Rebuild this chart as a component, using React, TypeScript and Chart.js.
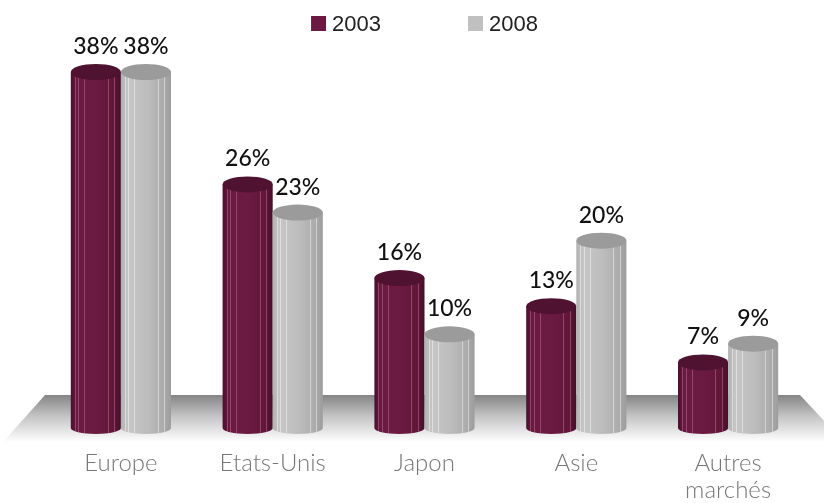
import React, { useEffect, useRef } from "react";
import { Chart, registerables } from "chart.js";

Chart.register(...registerables);

const categories: (string | string[])[] = ["Europe", "Etats-Unis", "Japon", "Asie", ["Autres", "marchés"]];
const seriesNames = ["2003", "2008"];
const values2003 = [38, 26, 16, 13, 7];
const values2008 = [38, 23, 10, 20, 9];

const palettes = [
  {
    legend: "#6a1a42",
    top: "#4f1331",
    body: [
      [0, "#4a0f2c"],
      [0.12, "#6a1941"],
      [0.5, "#6b1a42"],
      [0.85, "#611639"],
      [1, "#470e2a"],
    ],
    stripe: "rgba(230,160,195,0.35)",
  },
  {
    legend: "#c0c0c0",
    top: "#9b9b9b",
    body: [
      [0, "#b2b2b2"],
      [0.15, "#c6c6c6"],
      [0.55, "#bcbcbc"],
      [0.85, "#ababab"],
      [1, "#9d9d9d"],
    ],
    stripe: "rgba(255,255,255,0.45)",
  },
];

const stripeFractions = [0.08, 0.15, 0.27, 0.74, 0.87];

function drawCylinder(ctx: CanvasRenderingContext2D, x: number, top: number, base: number, w: number, pal: any) {
  const l = x - w / 2;
  const r = x + w / 2;
  const rx = w / 2;
  const ryTop = 8;
  const ryBot = 6;
  ctx.save();
  ctx.beginPath();
  ctx.moveTo(l, top);
  ctx.lineTo(l, base);
  ctx.ellipse(x, base, rx, ryBot, 0, Math.PI, 0, true);
  ctx.lineTo(r, top);
  ctx.closePath();
  const g = ctx.createLinearGradient(l, 0, r, 0);
  pal.body.forEach((s: any) => g.addColorStop(s[0], s[1]));
  ctx.fillStyle = g;
  ctx.fill();
  ctx.clip();
  ctx.strokeStyle = pal.stripe;
  ctx.lineWidth = 1;
  stripeFractions.forEach((f) => {
    const sx = Math.round(l + f * w) + 0.5;
    ctx.beginPath();
    ctx.moveTo(sx, top);
    ctx.lineTo(sx, base + ryBot + 2);
    ctx.stroke();
  });
  ctx.restore();

  ctx.save();
  ctx.beginPath();
  ctx.ellipse(x, top, rx, ryTop, 0, 0, Math.PI * 2);
  ctx.fillStyle = pal.top;
  ctx.fill();
  ctx.restore();
}

const cylinderPlugin = {
  id: "cylinders",
  beforeDatasetsDraw(chart: any) {
    const { ctx, chartArea } = chart;
    const floorTop = chartArea.bottom - 33;
    const floorBottom = chartArea.bottom + 14;
    ctx.save();
    const g = ctx.createLinearGradient(0, floorTop, 0, floorBottom);
    g.addColorStop(0, "#858585");
    g.addColorStop(0.45, "#c4c4c4");
    g.addColorStop(1, "#ffffff");
    ctx.beginPath();
    ctx.moveTo(chartArea.left, floorTop);
    ctx.lineTo(chartArea.right - 4, floorTop);
    ctx.lineTo(chartArea.right + 40, floorBottom);
    ctx.lineTo(chartArea.left - 42, floorBottom);
    ctx.closePath();
    ctx.fillStyle = g;
    ctx.fill();
    ctx.restore();
  },
  afterDatasetsDraw(chart: any) {
    const { ctx } = chart;
    const n = chart.data.labels.length;
    for (let i = 0; i < n; i++) {
      chart.data.datasets.forEach((ds: any, di: number) => {
        const meta = chart.getDatasetMeta(di);
        const el = meta.data[i];
        const p = el.getProps(["x", "y", "base", "width"], true);
        drawCylinder(ctx, p.x, p.y, p.base, p.width, palettes[di]);
      });
    }
    ctx.save();
    ctx.font = "500 23px Lato, 'Open Sans', sans-serif";
    ctx.fillStyle = "#111";
    ctx.textAlign = "center";
    ctx.textBaseline = "alphabetic";
    chart.data.datasets.forEach((ds: any, di: number) => {
      const meta = chart.getDatasetMeta(di);
      meta.data.forEach((el: any, i: number) => {
        const p = el.getProps(["x", "y"], true);
        ctx.fillText(ds.data[i] + "%", p.x, p.y - 18);
      });
    });
    ctx.restore();
  },
  afterDraw(chart: any) {
    const { ctx, chartArea } = chart;
    ctx.save();
    ctx.font = "22px 'Liberation Sans', Arial, sans-serif";
    ctx.textBaseline = "alphabetic";
    ctx.textAlign = "left";
    const box = 15;
    const gapText = 6;
    const gapItems = 87;
    const widths = chart.data.datasets.map((ds: any) => box + gapText + ctx.measureText(ds.label).width);
    const total = widths.reduce((a: number, b: number) => a + b, 0) + gapItems * (widths.length - 1);
    let x = (chartArea.left + chartArea.right) / 2 - total / 2;
    chart.data.datasets.forEach((ds: any, di: number) => {
      ctx.fillStyle = palettes[di].legend;
      ctx.fillRect(x, 16, box, box);
      ctx.fillStyle = "#222";
      ctx.fillText(ds.label, x + box + gapText, 31);
      x += widths[di] + gapItems;
    });
    ctx.restore();
  },
};

export default function App() {
  const ref = useRef<HTMLCanvasElement | null>(null);
  useEffect(() => {
    if (!ref.current) return;
    const chart = new Chart(ref.current, {
      type: "bar",
      data: {
        labels: categories,
        datasets: [
          { label: seriesNames[0], data: values2003, backgroundColor: "rgba(0,0,0,0)", borderWidth: 0 },
          { label: seriesNames[1], data: values2008, backgroundColor: "rgba(0,0,0,0)", borderWidth: 0 },
        ],
      },
      options: {
        responsive: false,
        animation: false,
        events: [],
        layout: { padding: { top: 72, left: 45, right: 20, bottom: 0 } },
        datasets: { bar: { categoryPercentage: 0.66, barPercentage: 1 } },
        plugins: { legend: { display: false }, tooltip: { enabled: false } },
        scales: {
          y: { display: false, min: 0, max: 38 },
          x: {
            grid: { display: false, drawTicks: false },
            border: { display: false },
            ticks: {
              color: "#777",
              padding: 21,
              font: { family: "Lato, 'Open Sans', sans-serif", size: 24, weight: "300", lineHeight: 1.15 },
            },
            afterFit: (axis: any) => {
              axis.height = 75;
            },
          },
        },
      },
      plugins: [cylinderPlugin],
    } as any);
    return () => chart.destroy();
  }, []);
  return (
    <div style={{ position: "fixed", left: 0, top: 0, width: 824, height: 503, background: "#fff" }}>
      <canvas ref={ref} width={824} height={503} style={{ width: 824, height: 503, display: "block" }} />
    </div>
  );
}
